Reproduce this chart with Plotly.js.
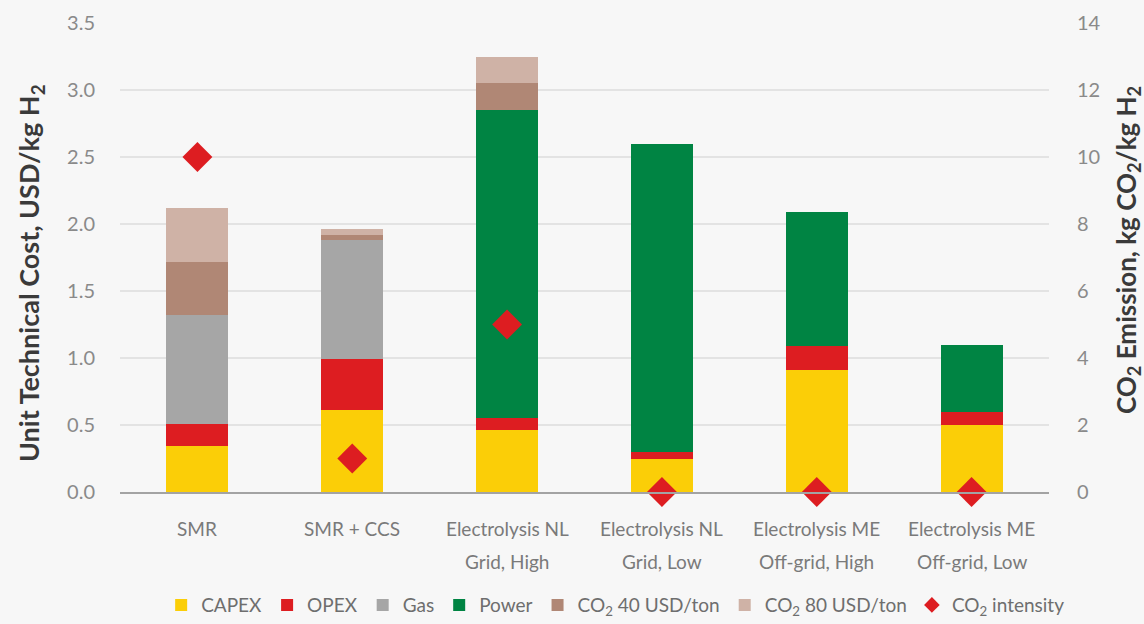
<!DOCTYPE html>
<html>
<head>
<meta charset="utf-8">
<script src="https://cdn.plot.ly/plotly-3.0.1.min.js"></script>
<style>
  html, body { margin: 0; padding: 0; background: #f7f7f7; overflow: hidden; }
  #chart { width: 1144px; height: 624px; }
</style>
</head>
<body>
<div id="chart"></div>
<script>
// Hydrogen production routes
const categories = ['SMR', 'SMR + CCS', 'Electrolysis NL Grid, High', 'Electrolysis NL Grid, Low',
                    'Electrolysis ME Off-grid, High', 'Electrolysis ME Off-grid, Low'];
const labelLine1 = ['SMR', 'SMR + CCS', 'Electrolysis NL', 'Electrolysis NL', 'Electrolysis ME', 'Electrolysis ME'];
const labelLine2 = ['', '', 'Grid, High', 'Grid, Low', 'Off-grid, High', 'Off-grid, Low'];

// Unit technical cost components, USD/kg H2
const capex  = [0.34, 0.61, 0.46, 0.25, 0.91, 0.50];
const opex   = [0.17, 0.38, 0.09, 0.05, 0.18, 0.10];
const gas    = [0.81, 0.89, 0, 0, 0, 0];
const power  = [0, 0, 2.30, 2.30, 1.00, 0.50];
const co2At40 = [0.40, 0.04, 0.20, 0, 0, 0];
const co2At80 = [0.40, 0.04, 0.20, 0, 0, 0];

// CO2 intensity, kg CO2/kg H2
const co2Intensity = [10, 1, 5, 0, 0, 0];

const yTicks = [0, 0.5, 1, 1.5, 2, 2.5, 3, 3.5];
const y2Ticks = [0, 2, 4, 6, 8, 10, 12, 14];

const leftTitle = 'Unit Technical Cost, USD/kg H<sub>2</sub>';
const rightTitle = 'CO<sub>2</sub> Emission, kg CO<sub>2</sub>/kg H<sub>2</sub>';

const FONT = 'Lato, "Noto Sans", sans-serif';

function barTrace(name, values, color) {
  return {
    type: 'bar', name: name, x: categories, y: values,
    marker: { color: color },
    hoverinfo: 'name+y'
  };
}

const traces = [
  barTrace('CAPEX', capex, '#fbce07'),
  barTrace('OPEX', opex, '#dd1d21'),
  barTrace('Gas', gas, '#a6a6a6'),
  barTrace('Power', power, '#008443'),
  barTrace('CO<sub>2</sub> 40 USD/ton', co2At40, '#b08775'),
  barTrace('CO<sub>2</sub> 80 USD/ton', co2At80, '#cfb2a6'),
  {
    type: 'scatter', mode: 'markers', name: 'CO<sub>2</sub> intensity',
    x: categories, y: co2Intensity, yaxis: 'y2',
    marker: { symbol: 'diamond', size: 23, color: '#dd1d21' },
    cliponaxis: false
  }
];

// Two-line category labels under the bars
const annotations = [];
categories.forEach((c, i) => {
  annotations.push({
    xref: 'x', yref: 'paper', x: c, y: 0, yanchor: 'middle', yshift: -36,
    text: labelLine1[i], showarrow: false,
    font: { family: FONT, size: 19, color: '#7a7a7a' }
  });
  if (labelLine2[i]) {
    annotations.push({
      xref: 'x', yref: 'paper', x: c, y: 0, yanchor: 'middle', yshift: -69,
      text: labelLine2[i], showarrow: false,
      font: { family: FONT, size: 19, color: '#7a7a7a' }
    });
  }
});

// Axis titles, rotated
annotations.push({
  xref: 'paper', yref: 'paper', x: 0, xshift: -89, y: 0.467,
  xanchor: 'center', yanchor: 'middle', textangle: -90, showarrow: false,
  text: leftTitle, font: { family: FONT, size: 27, color: '#3a3a3a', weight: 'bold' }
});
annotations.push({
  xref: 'paper', yref: 'paper', x: 1, xshift: 79, y: 0.516,
  xanchor: 'center', yanchor: 'middle', textangle: -90, showarrow: false,
  text: rightTitle, font: { family: FONT, size: 26, color: '#3a3a3a', weight: 'bold' }
});

const layout = {
  width: 1144, height: 624,
  margin: { l: 120, r: 95, t: 23, b: 132, pad: 0, autoexpand: false },
  paper_bgcolor: '#f7f7f7', plot_bgcolor: '#f7f7f7',
  barmode: 'stack', bargap: 0.6,
  font: { family: FONT, color: '#7a7a7a' },
  showlegend: true,
  legend: {
    orientation: 'h', x: 0.533, xanchor: 'center', y: -0.241, yanchor: 'middle',
    font: { family: FONT, size: 19, color: '#6e6e6e' },
    traceorder: 'normal', itemsizing: 'constant', itemwidth: 30, bgcolor: 'rgba(0,0,0,0)'
  },
  xaxis: {
    type: 'category', showticklabels: false, showgrid: false,
    showline: true, linecolor: '#a3a3a3', linewidth: 2, zeroline: false, fixedrange: true
  },
  yaxis: {
    range: [0, 3.5], tickvals: yTicks, tickformat: '.1f',
    showgrid: true, gridcolor: '#e3e3e3', gridwidth: 1.5, zeroline: false,
    ticklabelstandoff: 24,
    tickfont: { family: FONT, size: 20, color: '#8a8a8a' },
    automargin: false
  },
  yaxis2: {
    overlaying: 'y', side: 'right', range: [0, 14], tickvals: y2Ticks,
    showgrid: false, zeroline: false, showline: false,
    ticklabelstandoff: 27,
    tickfont: { family: FONT, size: 20, color: '#8a8a8a' },
    automargin: false
  },
  annotations: annotations
};

Plotly.newPlot('chart', traces, layout, { displayModeBar: false, staticPlot: true });
</script>
</body>
</html>
